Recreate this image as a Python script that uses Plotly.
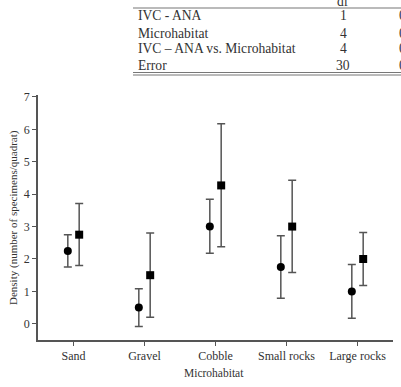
import plotly.graph_objects as go

categories = ["Sand", "Gravel", "Cobble", "Small rocks", "Large rocks"]
ivc_mean = [2.25, 0.5, 3.0, 1.75, 1.0]
ivc_up = [0.5, 0.58, 0.84, 0.97, 0.83]
ivc_down = [0.5, 0.58, 0.82, 0.96, 0.83]
ana_mean = [2.75, 1.5, 4.27, 3.0, 2.0]
ana_up = [0.96, 1.3, 1.9, 1.43, 0.82]
ana_down = [0.95, 1.3, 1.89, 1.42, 0.82]

table_rows = ["IVC - ANA", "Microhabitat", "IVC \u2013 ANA vs. Microhabitat", "Error"]
table_df = ["1", "4", "4", "30"]

W, H = 401, 387
L, R, T, B = 38, 8, 95, 47
PW, PH = W - L - R, H - T - B

def px(x):
    return (x - L) / PW

def py(y):
    return (H - B - y) / PH

FONT = "Liberation Serif"
ERR = "#555555"

xi = list(range(len(categories)))
off = 0.08

fig = go.Figure()
fig.add_trace(go.Scatter(
    x=[v - off for v in xi], y=ivc_mean, mode="markers",
    marker=dict(symbol="circle", size=8, color="black"),
    error_y=dict(type="data", array=ivc_up, arrayminus=ivc_down, symmetric=False,
                 color=ERR, thickness=1.5, width=4),
    showlegend=False))
fig.add_trace(go.Scatter(
    x=[v + off for v in xi], y=ana_mean, mode="markers",
    marker=dict(symbol="square", size=8, color="black"),
    error_y=dict(type="data", array=ana_up, arrayminus=ana_down, symmetric=False,
                 color=ERR, thickness=1.5, width=4),
    showlegend=False))

fig.update_layout(
    width=W, height=H,
    margin=dict(l=L, r=R, t=T, b=B),
    paper_bgcolor="white", plot_bgcolor="white",
    font=dict(family=FONT, size=12, color="#222222"),
    xaxis=dict(range=[-0.5, 4.5], tickmode="array", tickvals=xi, ticktext=categories,
               showline=True, linecolor="#555555", linewidth=1.5, ticks="outside",
               ticklen=4, tickcolor="#555555", showgrid=False, zeroline=False,
               tickfont=dict(family=FONT, size=12, color="#333333")),
    yaxis=dict(range=[-0.5, 7.06], tickmode="array", tickvals=list(range(8)),
               showline=True, linecolor="#555555", linewidth=1.5, ticks="outside",
               ticklen=4, tickcolor="#555555", showgrid=False, zeroline=False,
               tickfont=dict(family=FONT, size=12, color="#333333")),
)

ann = []
ann.append(dict(text="Density (number of specimens/quadrat)", x=px(13), y=py(218),
                xref="paper", yref="paper", xanchor="center", yanchor="middle",
                textangle=-90, showarrow=False,
                font=dict(family=FONT, size=11, color="#333333")))
ann.append(dict(text="Microhabitat", x=px(214), y=py(373), xref="paper", yref="paper",
                xanchor="center", yanchor="middle",
                showarrow=False, font=dict(family=FONT, size=11.5, color="#333333")))

# table
row_y = [16, 33, 49, 66]
for t, d, yy in zip(table_rows, table_df, row_y):
    ann.append(dict(text=t, x=px(136), y=py(yy), xref="paper", yref="paper",
                    xanchor="left", yanchor="middle",
                    showarrow=False, font=dict(family=FONT, size=13.6, color="#333333")))
    ann.append(dict(text=d, x=px(343), y=py(yy), xref="paper", yref="paper",
                    xanchor="center", yanchor="middle",
                    showarrow=False, font=dict(family=FONT, size=13.6, color="#333333")))
    ann.append(dict(text="0", x=px(397), y=py(yy), xref="paper", yref="paper",
                    xanchor="left", yanchor="middle",
                    showarrow=False, font=dict(family=FONT, size=13.6, color="#333333")))
ann.append(dict(text="df", x=px(343), y=py(1), xref="paper", yref="paper",
                xanchor="center", yanchor="middle",
                showarrow=False, font=dict(family=FONT, size=13.6, color="#333333")))
fig.update_layout(annotations=ann)

shapes = []
for yy, wdt in [(8, 1.2), (72.5, 1.2), (75, 1.0)]:
    shapes.append(dict(type="line", xref="paper", yref="paper", x0=px(133), x1=px(405),
                       y0=py(yy), y1=py(yy), line=dict(color="#777777", width=wdt)))
fig.update_layout(shapes=shapes)

fig.write_html("out.html")
